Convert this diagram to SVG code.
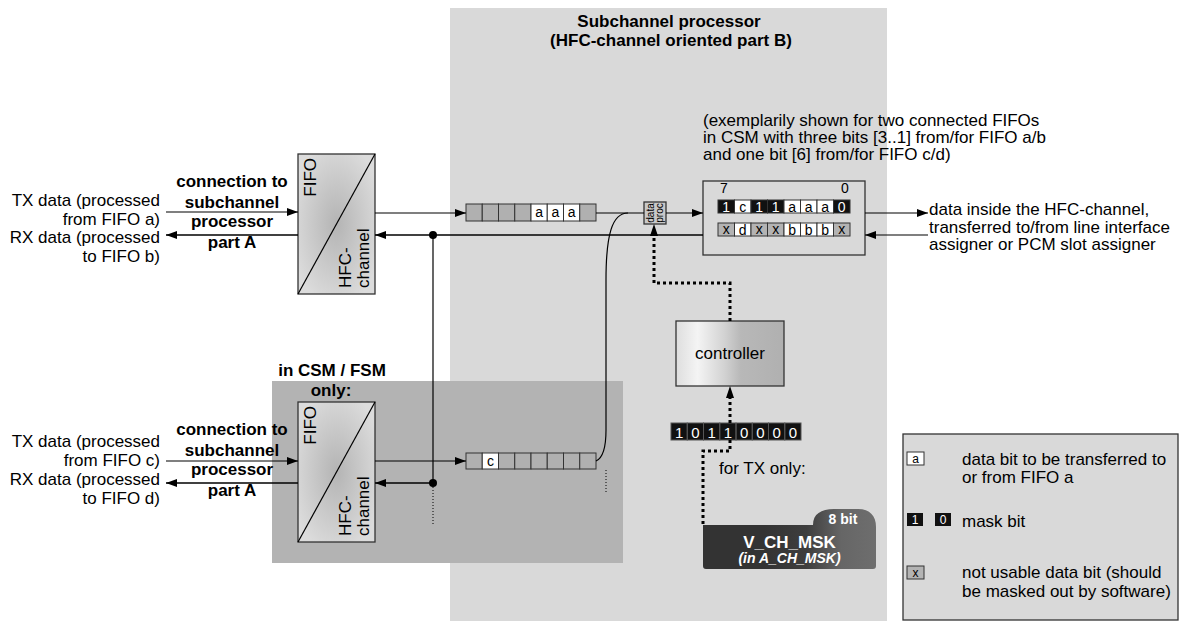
<svg xmlns="http://www.w3.org/2000/svg" width="1180" height="621" viewBox="0 0 1180 621">
<style>
text{font-family:"Liberation Sans",Arial,sans-serif;fill:#000}
.t{font-size:17px}
.b{font-size:17px;font-weight:bold}
.c{font-size:14px;text-anchor:middle}
.w{fill:#fff}
.ln{stroke:#000;stroke-width:1.2;fill:none}
.rx{stroke:#000;stroke-width:1.6;fill:none}
.dot{stroke:#000;stroke-width:3;stroke-dasharray:3 3;fill:none}
.fine{stroke:#000;stroke-width:1;stroke-dasharray:1 2;fill:none}
.cell{stroke:#333;stroke-width:1}
.box{stroke:#333;stroke-width:1.3}
</style>
<defs>
<marker id="ah" viewBox="0 0 11 8" refX="11" refY="4" markerWidth="11" markerHeight="8" markerUnits="userSpaceOnUse" orient="auto"><path d="M0,0 L11,4 L0,8 z" fill="#000"/></marker>
<radialGradient id="fifoG" cx="0.5" cy="0.5" r="0.6"><stop offset="0" stop-color="#b4b4b4"/><stop offset="1" stop-color="#dcdcdc"/></radialGradient>
<linearGradient id="ctrlG" x1="0" y1="0" x2="1" y2="0"><stop offset="0" stop-color="#dedede"/><stop offset="0.2" stop-color="#f4f4f4"/><stop offset="0.45" stop-color="#d2d2d2"/><stop offset="0.6" stop-color="#b8b8b8"/><stop offset="1" stop-color="#b0b0b0"/></linearGradient>
<linearGradient id="mskG" x1="0" y1="0" x2="1" y2="0"><stop offset="0" stop-color="#333"/><stop offset="0.35" stop-color="#333"/><stop offset="0.6" stop-color="#3e3e3e"/><stop offset="0.8" stop-color="#666"/><stop offset="1" stop-color="#6e6e6e"/></linearGradient>
</defs>

<g id="panel-main"><rect x="450" y="8" width="437" height="613" fill="#d9d9d9"/>
<text class="b" x="669" y="27" text-anchor="middle">Subchannel processor</text>
<text class="b" x="671" y="46" text-anchor="middle">(HFC-channel oriented part B)</text></g>

<g id="panel-csm"><rect x="272" y="381" width="351" height="182" fill="#b3b3b3"/>
<text class="b" x="332" y="376" text-anchor="middle">in CSM / FSM</text>
<text class="b" x="331" y="396" text-anchor="middle">only:</text></g>

<g id="note"><text class="t" x="703" y="126">(exemplarily shown for two connected FIFOs</text>
<text class="t" x="703" y="143">in CSM with three bits [3..1] from/for FIFO a/b</text>
<text class="t" x="703" y="160">and one bit [6] from/for FIFO c/d)</text></g>

<g id="labels-left">
<text class="t" text-anchor="end" x="160" y="206">TX data (processed</text>
<text class="t" text-anchor="end" x="160" y="224.5">from FIFO a)</text>
<text class="t" text-anchor="end" x="160" y="243">RX data (processed</text>
<text class="t" text-anchor="end" x="160" y="261.5">to FIFO b)</text>
<text class="b" text-anchor="middle" x="232" y="187">connection to</text>
<text class="b" text-anchor="middle" x="232" y="207.5">subchannel</text>
<text class="b" text-anchor="middle" x="232" y="227">processor</text>
<text class="b" text-anchor="middle" x="232" y="247.5">part A</text>
<text class="t" text-anchor="end" x="160" y="447">TX data (processed</text>
<text class="t" text-anchor="end" x="160" y="466">from FIFO c)</text>
<text class="t" text-anchor="end" x="160" y="485">RX data (processed</text>
<text class="t" text-anchor="end" x="160" y="504">to FIFO d)</text>
<text class="b" text-anchor="middle" x="232" y="435">connection to</text>
<text class="b" text-anchor="middle" x="232" y="455.5">subchannel</text>
<text class="b" text-anchor="middle" x="232" y="475">processor</text>
<text class="b" text-anchor="middle" x="232" y="495.5">part A</text>
</g>

<g id="labels-right"><text class="t" x="929" y="215">data inside the HFC-channel,</text>
<text class="t" x="929" y="232.5">transferred to/from line interface</text>
<text class="t" x="929" y="250">assigner or PCM slot assigner</text></g>

<g id="fifo-top"><rect x="298" y="154" width="77" height="140" fill="url(#fifoG)" class="box"/>
<line x1="298" y1="294" x2="375" y2="154" stroke="#000" stroke-width="1.2"/>
<text class="t" transform="translate(316,158) rotate(-90)" text-anchor="end">FIFO</text>
<text class="t" transform="translate(351,288) rotate(-90)">HFC-</text>
<text class="t" transform="translate(369,288) rotate(-90)">channel</text></g>

<g id="fifo-bottom"><rect x="298" y="402" width="77" height="140" fill="url(#fifoG)" class="box"/>
<line x1="298" y1="542" x2="375" y2="402" stroke="#000" stroke-width="1.2"/>
<text class="t" transform="translate(316,406) rotate(-90)" text-anchor="end">FIFO</text>
<text class="t" transform="translate(351,536) rotate(-90)">HFC-</text>
<text class="t" transform="translate(369,536) rotate(-90)">channel</text></g>

<g id="register-top">
<rect x="466" y="204" width="16.25" height="17" fill="#b0b0b0" class="cell"/>
<rect x="482.25" y="204" width="16.25" height="17" fill="#b0b0b0" class="cell"/>
<rect x="498.5" y="204" width="16.25" height="17" fill="#b0b0b0" class="cell"/>
<rect x="514.75" y="204" width="16.25" height="17" fill="#b0b0b0" class="cell"/>
<rect x="531" y="204" width="16.25" height="17" fill="#fff" class="cell"/>
<rect x="547.25" y="204" width="16.25" height="17" fill="#fff" class="cell"/>
<rect x="563.5" y="204" width="16.25" height="17" fill="#fff" class="cell"/>
<rect x="579.75" y="204" width="16.25" height="17" fill="#b0b0b0" class="cell"/>
<text class="c" x="539.1" y="217">a</text><text class="c" x="555.4" y="217">a</text><text class="c" x="571.6" y="217">a</text>
</g>

<g id="register-bottom">
<rect x="466" y="453" width="16.25" height="16" fill="#b0b0b0" class="cell"/>
<rect x="482.25" y="453" width="16.25" height="16" fill="#fff" class="cell"/>
<rect x="498.5" y="453" width="16.25" height="16" fill="#b0b0b0" class="cell"/>
<rect x="514.75" y="453" width="16.25" height="16" fill="#b0b0b0" class="cell"/>
<rect x="531" y="453" width="16.25" height="16" fill="#b0b0b0" class="cell"/>
<rect x="547.25" y="453" width="16.25" height="16" fill="#b0b0b0" class="cell"/>
<rect x="563.5" y="453" width="16.25" height="16" fill="#b0b0b0" class="cell"/>
<rect x="579.75" y="453" width="16.25" height="16" fill="#b0b0b0" class="cell"/>
<text class="c" x="490.4" y="466">c</text>
</g>

<g id="dataproc"><rect x="644" y="202" width="22" height="22" fill="#c8c8c8" class="box"/>
<text transform="translate(654,213) rotate(-90)" text-anchor="middle" style="font-size:10px">data</text>
<text transform="translate(663,213) rotate(-90)" text-anchor="middle" style="font-size:10px">proc</text></g>

<g id="maskbox"><rect x="703" y="181" width="162" height="74" fill="#d9d9d9" class="box"/>
<text class="t" x="720" y="193" style="font-size:14px">7</text>
<text class="t" x="841" y="193" style="font-size:14px">0</text>
<rect x="718" y="200" width="16.5" height="13" fill="#111" class="cell"/>
<rect x="734.5" y="200" width="16.5" height="13" fill="#fff" class="cell"/>
<rect x="751" y="200" width="16.5" height="13" fill="#111" class="cell"/>
<rect x="767.5" y="200" width="16.5" height="13" fill="#111" class="cell"/>
<rect x="784" y="200" width="16.5" height="13" fill="#fff" class="cell"/>
<rect x="800.5" y="200" width="16.5" height="13" fill="#fff" class="cell"/>
<rect x="817" y="200" width="16.5" height="13" fill="#fff" class="cell"/>
<rect x="833.5" y="200" width="16.5" height="13" fill="#111" class="cell"/>
<text class="c w" x="726.2" y="211.5">1</text><text class="c" x="742.7" y="211.5">c</text><text class="c w" x="759.2" y="211.5">1</text><text class="c w" x="775.7" y="211.5">1</text>
<text class="c" x="792.2" y="211.5">a</text><text class="c" x="808.7" y="211.5">a</text><text class="c" x="825.2" y="211.5">a</text><text class="c w" x="841.7" y="211.5">0</text>
<rect x="718" y="223" width="16.5" height="13" fill="#b3b3b3" class="cell"/>
<rect x="734.5" y="223" width="16.5" height="13" fill="#fff" class="cell"/>
<rect x="751" y="223" width="16.5" height="13" fill="#b3b3b3" class="cell"/>
<rect x="767.5" y="223" width="16.5" height="13" fill="#b3b3b3" class="cell"/>
<rect x="784" y="223" width="16.5" height="13" fill="#fff" class="cell"/>
<rect x="800.5" y="223" width="16.5" height="13" fill="#fff" class="cell"/>
<rect x="817" y="223" width="16.5" height="13" fill="#fff" class="cell"/>
<rect x="833.5" y="223" width="16.5" height="13" fill="#b3b3b3" class="cell"/>
<text class="c" x="726.2" y="234">x</text><text class="c" x="742.7" y="234.5">d</text><text class="c" x="759.2" y="234">x</text><text class="c" x="775.7" y="234">x</text>
<text class="c" x="792.2" y="234.5">b</text><text class="c" x="808.7" y="234.5">b</text><text class="c" x="825.2" y="234.5">b</text><text class="c" x="841.7" y="234">x</text>
</g>

<g id="controller"><rect x="676" y="321" width="108" height="65" fill="url(#ctrlG)" class="box"/>
<text class="t" x="730" y="359" text-anchor="middle">controller</text></g>

<g id="bitmask"><rect x="671" y="423" width="130" height="17" fill="#111"/>
<g fill="none" stroke="#555" stroke-width="1"><rect x="671" y="423" width="16.25" height="17"/><rect x="687.25" y="423" width="16.25" height="17"/><rect x="703.5" y="423" width="16.25" height="17"/><rect x="719.75" y="423" width="16.25" height="17"/><rect x="736" y="423" width="16.25" height="17"/><rect x="752.25" y="423" width="16.25" height="17"/><rect x="768.5" y="423" width="16.25" height="17"/><rect x="784.75" y="423" width="16.25" height="17"/></g>
<g style="font-size:15px;text-anchor:middle">
<text class="w" x="679.1" y="437.5">1</text><text class="w" x="695.4" y="437.5">0</text><text class="w" x="711.6" y="437.5">1</text><text class="w" x="727.9" y="437.5">1</text>
<text class="w" x="744.1" y="437.5">0</text><text class="w" x="760.4" y="437.5">0</text><text class="w" x="776.6" y="437.5">0</text><text class="w" x="792.9" y="437.5">0</text></g>
<text class="t" x="719" y="474">for TX only:</text></g>

<g id="vchmsk"><path d="M703,525 L813,525 C813,514 821,509 834,509 L858,509 C870,509 876,516 876,527 L876,566 Q876,569 873,569 L706,569 Q703,569 703,566 Z" fill="url(#mskG)"/>
<text class="w" x="843" y="524" text-anchor="middle" style="font-size:14px;font-weight:bold">8 bit</text>
<text class="w" x="789.5" y="548" text-anchor="middle" style="font-size:17px;font-weight:bold">V_CH_MSK</text>
<text class="w" x="789.5" y="563" text-anchor="middle" style="font-size:14px;font-weight:bold;font-style:italic">(in A_CH_MSK)</text></g>

<g id="legend"><rect x="903" y="434" width="275" height="186" fill="#d9d9d9" class="box"/>
<rect x="907" y="452" width="17" height="13" fill="#fff" class="cell"/><text class="c" x="915.5" y="462.5" style="font-size:12px">a</text>
<text class="t" x="962" y="465">data bit to be transferred to</text>
<text class="t" x="962" y="483">or from FIFO a</text>
<rect x="907" y="513" width="16" height="13" fill="#111"/><text class="c w" x="915" y="524" style="font-size:12px">1</text>
<rect x="935" y="513" width="16" height="13" fill="#111"/><text class="c w" x="943" y="524" style="font-size:12px">0</text>
<text class="t" x="962" y="527">mask bit</text>
<rect x="907" y="566" width="17" height="13" fill="#b3b3b3" class="cell"/><text class="c" x="915.5" y="576.5" style="font-size:12px">x</text>
<text class="t" x="962" y="578">not usable data bit (should</text>
<text class="t" x="962" y="597">be masked out by software)</text></g>

<g id="connectors">
<line class="ln" x1="166" y1="212" x2="298" y2="212" marker-end="url(#ah)"/>
<line class="rx" x1="298" y1="235" x2="166" y2="235" marker-end="url(#ah)"/>
<line class="ln" x1="375" y1="213" x2="466" y2="213" marker-end="url(#ah)"/>
<line class="ln" x1="596" y1="213" x2="644" y2="213"/>
<line class="ln" x1="666" y1="213" x2="703" y2="213" marker-end="url(#ah)"/>
<line class="rx" x1="703" y1="235" x2="375" y2="235" marker-end="url(#ah)"/>
<line class="ln" x1="865" y1="213" x2="928" y2="213" marker-end="url(#ah)"/>
<line class="ln" x1="928" y1="235" x2="865" y2="235" marker-end="url(#ah)"/>
<line class="ln" x1="433" y1="235" x2="433" y2="483"/>
<circle cx="433" cy="235" r="4" fill="#000"/>
<circle cx="433" cy="483" r="4" fill="#000"/>
<line class="fine" x1="433" y1="487" x2="433" y2="526"/>
<line class="ln" x1="166" y1="461" x2="298" y2="461" marker-end="url(#ah)"/>
<line class="rx" x1="298" y1="483" x2="166" y2="483" marker-end="url(#ah)"/>
<line class="ln" x1="375" y1="461" x2="466" y2="461" marker-end="url(#ah)"/>
<line class="rx" x1="433" y1="483" x2="375" y2="483" marker-end="url(#ah)"/>
<path class="ln" d="M596,461 C603,458 606,448 606,430 L606,280 C606,235 612,213 628,213"/>
<line class="fine" x1="606" y1="470" x2="606" y2="493"/>
<path class="dot" d="M730,321 L730,283 L654,283 L654,236"/>
<path d="M654,224 L658,236 L650,236 Z" fill="#000"/>
<path class="dot" d="M730,423 L730,398"/>
<path d="M730,386 L734,398 L726,398 Z" fill="#000"/>
<path class="dot" d="M730,440 L730,451 L703,451 L703,525"/>
</g>
</svg>
